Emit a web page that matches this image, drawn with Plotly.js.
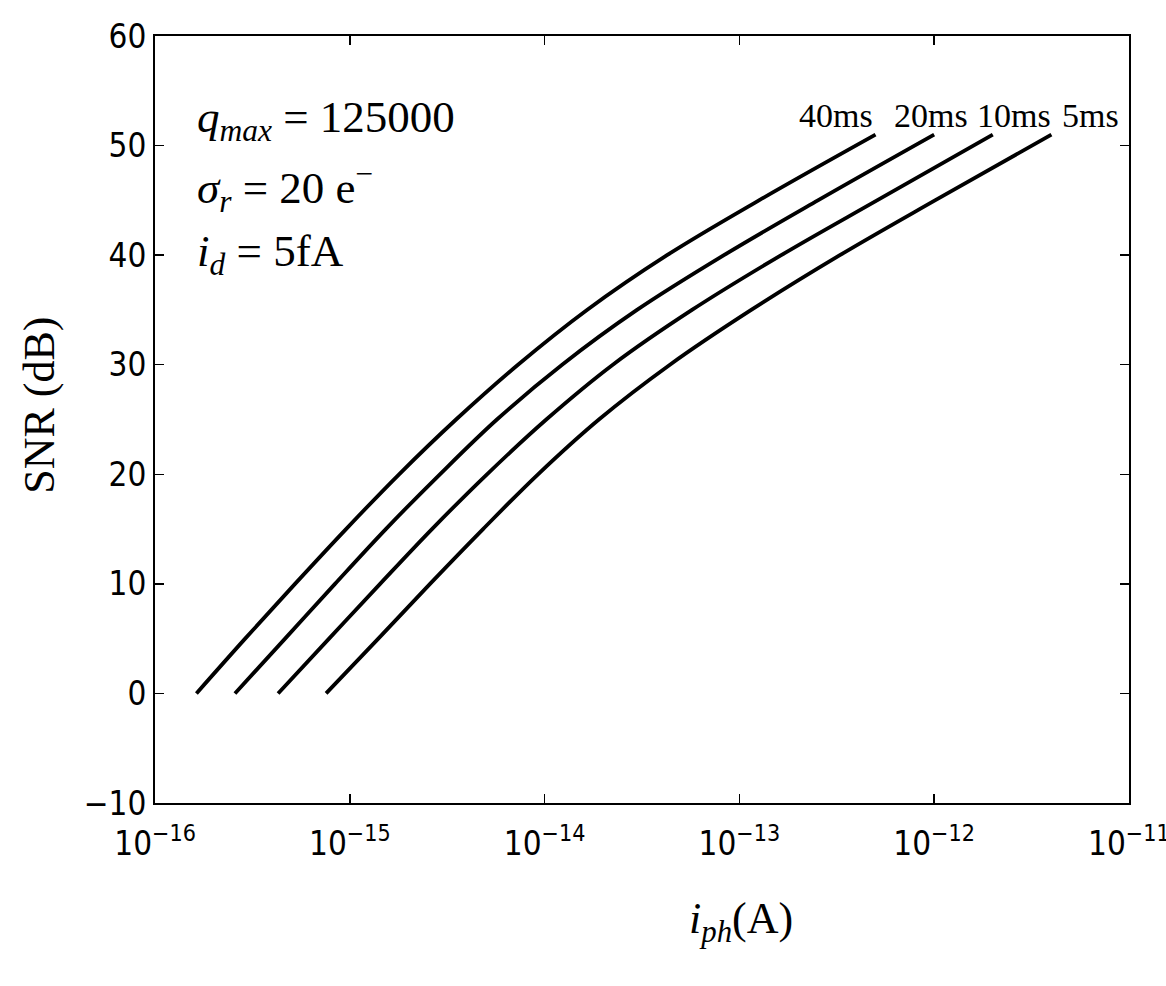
<!DOCTYPE html>
<html>
<head>
<meta charset="utf-8">
<script src="https://cdn.plot.ly/plotly-3.0.1.min.js"></script>
<style>html,body{margin:0;padding:0;background:#fff;}#chart{width:1166px;height:986px;}</style>
</head>
<body>
<div id="chart"></div>
<script>
// SNR levels (dB) at which each curve was read
const snr = [0, 5, 10, 15, 20, 25, 30, 35, 40, 45, 51];
// photocurrent i_ph (A) for each integration time
const iph40 = [1.63e-16, 2.90e-16, 5.23e-16, 9.56e-16, 1.79e-15, 3.51e-15, 7.30e-15, 1.65e-14, 4.25e-14, 1.26e-13, 5.0e-13];
const iph20 = [2.57e-16, 4.65e-16, 8.39e-16, 1.53e-15, 2.90e-15, 5.69e-15, 1.23e-14, 2.98e-14, 8.33e-14, 2.53e-13, 1.0e-12];
const iph10 = [4.28e-16, 7.82e-16, 1.43e-15, 2.64e-15, 5.06e-15, 1.02e-14, 2.24e-14, 5.71e-14, 1.64e-13, 5.09e-13, 2.0e-12];
const iph5  = [7.55e-16, 1.40e-15, 2.58e-15, 4.83e-15, 9.25e-15, 1.90e-14, 4.40e-14, 1.15e-13, 3.28e-13, 1.01e-12, 4.0e-12];
const seriesNames = ['40ms', '20ms', '10ms', '5ms'];
const seriesX = [iph40, iph20, iph10, iph5];
const labelX = [0.699, 0.797, 0.882, 0.960];
const xTickVals = [1e-16, 1e-15, 1e-14, 1e-13, 1e-12, 1e-11];
const xTickText = ['10<sup>−16</sup>', '10<sup>−15</sup>', '10<sup>−14</sup>', '10<sup>−13</sup>', '10<sup>−12</sup>', '10<sup>−11</sup>'];
const yTickVals = [-10, 0, 10, 20, 30, 40, 50, 60];

const serif = 'Liberation Serif, DejaVu Serif, serif';
const sans = 'DejaVu Sans Condensed, DejaVu Sans, sans-serif';

const traces = seriesX.map((xs, k) => ({
  x: xs, y: snr, type: 'scatter', mode: 'lines', name: seriesNames[k],
  line: {color: '#000', width: 3.8, shape: 'spline', smoothing: 1},
  showlegend: false, hoverinfo: 'skip'
}));

const annotations = seriesNames.map((n, k) => ({
  text: n, xref: 'paper', yref: 'paper', x: labelX[k], y: 0.897,
  xanchor: 'center', yanchor: 'middle', showarrow: false,
  font: {family: serif, size: 34, color: '#000'}
}));
annotations.push(
  {text: '<i>q</i><sub><i>max</i></sub> = 125000', xref: 'paper', yref: 'paper', x: 0.041, y: 0.890, xanchor: 'left', yanchor: 'middle', showarrow: false, font: {family: serif, size: 45, color: '#000'}},
  {text: '<i>σ</i><sub><i>r</i></sub> = 20 e<sup>−</sup>', xref: 'paper', yref: 'paper', x: 0.041, y: 0.803, xanchor: 'left', yanchor: 'middle', showarrow: false, font: {family: serif, size: 45, color: '#000'}},
  {text: '<i>i</i><sub><i>d</i></sub> = 5fA', xref: 'paper', yref: 'paper', x: 0.041, y: 0.716, xanchor: 'left', yanchor: 'middle', showarrow: false, font: {family: serif, size: 45, color: '#000'}},
  {text: '<i>i</i><sub><i>ph</i></sub>(A)', xref: 'paper', yref: 'paper', x: 0.602, y: -0.155, xanchor: 'center', yanchor: 'middle', showarrow: false, font: {family: serif, size: 44, color: '#000'}},
  {text: 'SNR (dB)', xref: 'paper', yref: 'paper', x: -0.118, y: 0.518, xanchor: 'center', yanchor: 'middle', textangle: -90, showarrow: false, font: {family: serif, size: 44, color: '#000'}}
);

const axisCommon = {
  showline: true, linecolor: '#000', linewidth: 2, mirror: 'ticks',
  ticks: 'inside', ticklen: 9, tickwidth: 1.5, tickcolor: '#000',
  showgrid: false, zeroline: false, ticklabeloverflow: 'allow',
  tickfont: {family: sans, size: 33, color: '#000'}
};

const layout = {
  width: 1166, height: 986,
  margin: {l: 155, r: 37, t: 36, b: 183},
  paper_bgcolor: '#fff', plot_bgcolor: '#fff',
  xaxis: Object.assign({}, axisCommon, {type: 'log', range: [-16.0005, -10.9995], tickvals: xTickVals, ticktext: xTickText, ticklabelstandoff: 10}),
  yaxis: Object.assign({}, axisCommon, {range: [-10, 60], tickvals: yTickVals}),
  annotations: annotations
};

Plotly.newPlot('chart', traces, layout, {displayModeBar: false, staticPlot: true});
</script>
</body>
</html>
